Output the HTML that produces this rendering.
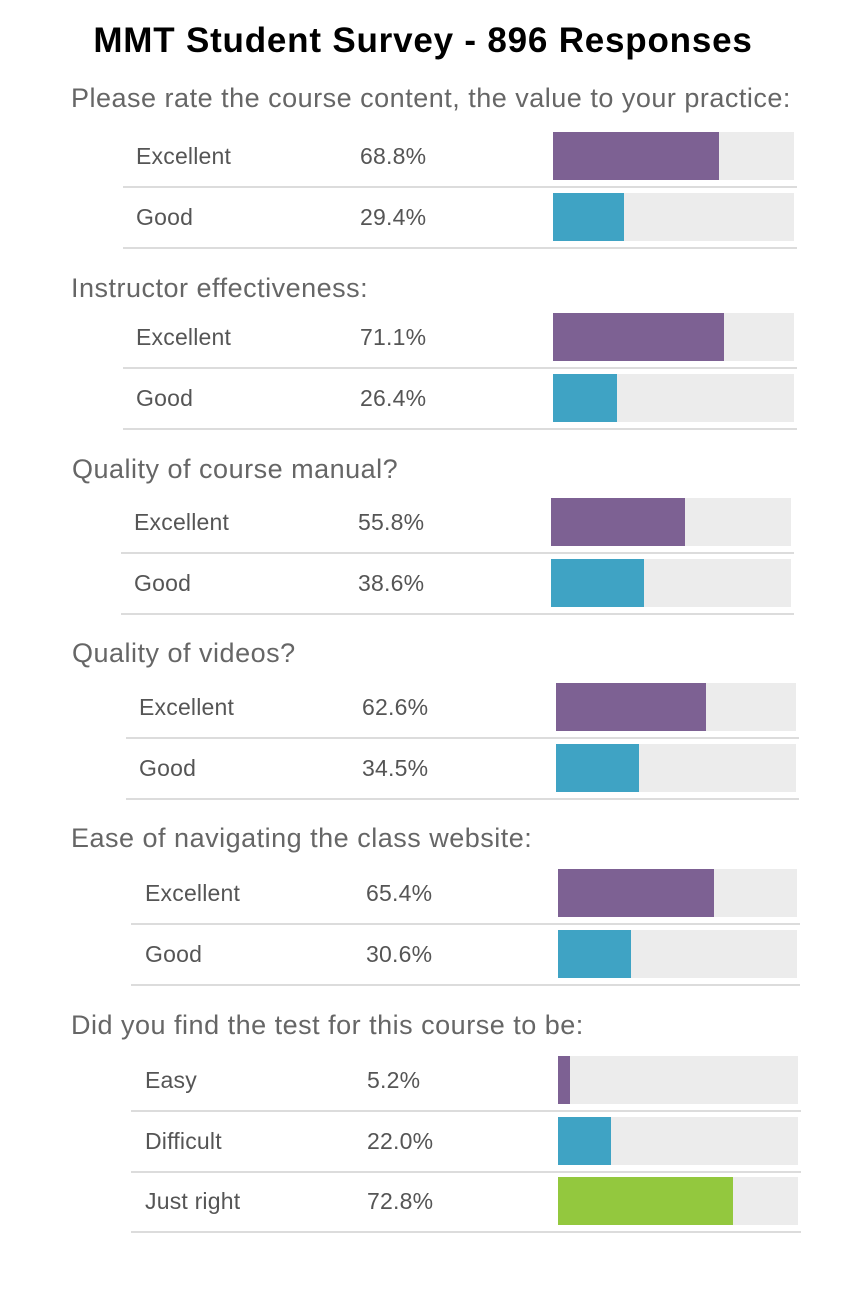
<!DOCTYPE html>
<html><head><meta charset="utf-8">
<style>
body{margin:0;width:864px;height:1296px;background:#fff;position:relative;overflow:hidden;font-family:"Liberation Sans",Arial,sans-serif}
.abs{position:absolute;white-space:nowrap}
.title{left:0;width:846px;text-align:center;top:21px;font-size:35px;font-weight:bold;color:#000;letter-spacing:0.8px}
.q{font-size:27px;color:#666;letter-spacing:0.5px}
.lbl{font-size:23px;color:#555;letter-spacing:0.2px}
.bg{background:#ececec}
.line{height:2px;background:#dcdcdc}
</style></head><body>
<div class="abs title">MMT Student Survey - 896 Responses</div>
<div id="root"></div>
<script>
const questions=["Please rate the course content, the value to your practice:","Instructor effectiveness:","Quality of course manual?","Quality of videos?","Ease of navigating the class website:","Did you find the test for this course to be:"];
const q1Labels=["Excellent","Good"],q1Values=[68.8,29.4];
const q2Labels=["Excellent","Good"],q2Values=[71.1,26.4];
const q3Labels=["Excellent","Good"],q3Values=[55.8,38.6];
const q4Labels=["Excellent","Good"],q4Values=[62.6,34.5];
const q5Labels=["Excellent","Good"],q5Values=[65.4,30.6];
const q6Labels=["Easy","Difficult","Just right"],q6Values=[5.2,22.0,72.8];
const labelSets=[q1Labels,q2Labels,q3Labels,q4Labels,q5Labels,q6Labels];
const valueSets=[q1Values,q2Values,q3Values,q4Values,q5Values,q6Values];
const layout=[
 {qy:83,qx:71,by:132,bx:553,bw:241,lx:136,px:360,ll:123},
 {qy:273,qx:71,by:313,bx:553,bw:241,lx:136,px:360,ll:123},
 {qy:454,qx:72,by:498,bx:551,bw:240,lx:134,px:358,ll:121},
 {qy:638,qx:72,by:683,bx:556,bw:240,lx:139,px:362,ll:126},
 {qy:823,qx:71,by:869,bx:558,bw:239,lx:145,px:366,ll:131},
 {qy:1010,qx:71,by:1056,bx:558,bw:240,lx:145,px:367,ll:131}
];
const colors=["#7d6193","#3fa3c4","#93c83e"];
const root=document.getElementById('root');
function mk(cls,css,txt){const d=document.createElement('div');d.className='abs '+cls;d.style.cssText=css;if(txt!==undefined)d.textContent=txt;root.appendChild(d);return d;}
function xs(L,v){return v/100*L.bw;}
questions.forEach((q,i)=>{
 const L=layout[i];
 const t=mk('q',`left:${L.qx}px;top:${L.qy}px`,q);
 
 
 labelSets[i].forEach((lab,j)=>{
  const y=L.by+j*60.5;
  const a=mk('lbl',`left:${L.lx}px;top:${y+11}px`,lab);
  
  
  const p=mk('lbl',`left:${L.px}px;top:${y+11}px`,valueSets[i][j].toFixed(1)+'%');
  
  
  const bg=mk('bg',`left:${L.bx}px;top:${y}px;width:${L.bw}px;height:48px`);
  
  
  const f=mk('',`left:${L.bx}px;top:${y}px;width:${xs(L,valueSets[i][j])}px;height:48px;background:${colors[j]}`);
  
  
  const ln=mk('line',`left:${L.ll}px;top:${y+54}px;width:${L.bx+L.bw+3-L.ll}px`);
  
  
 });
});
</script>
</body></html>
